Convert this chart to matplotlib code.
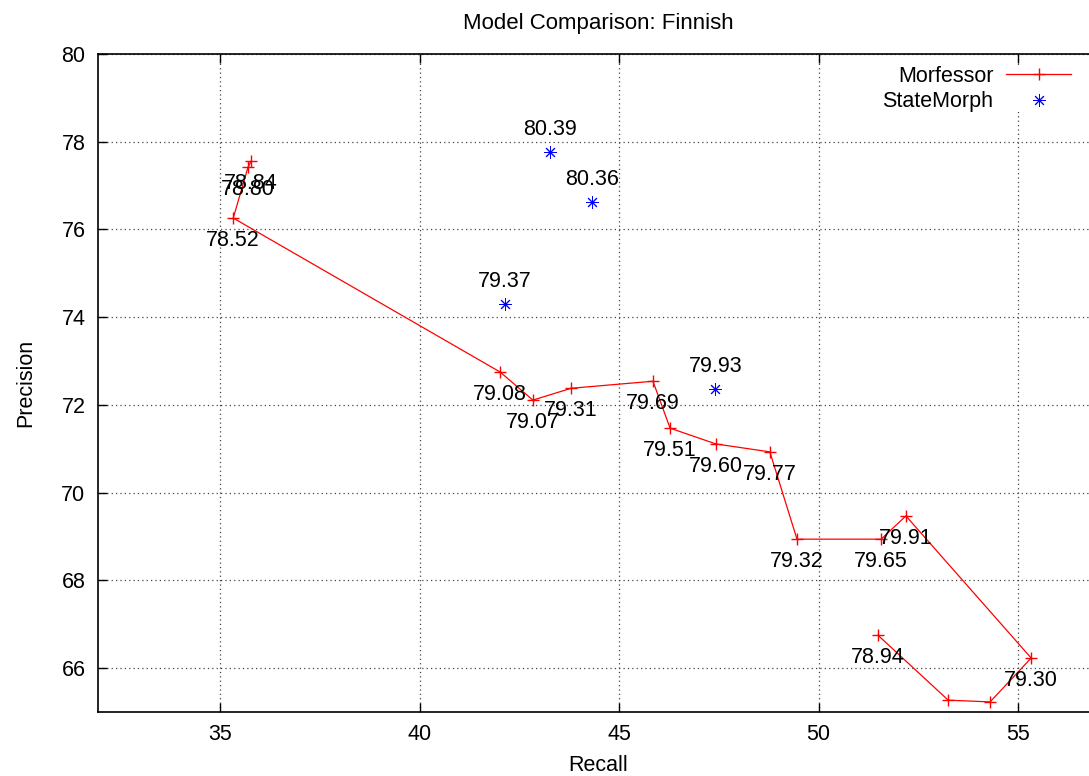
import matplotlib
matplotlib.use("Agg")
import matplotlib.pyplot as plt

plt.rcParams['font.family'] = ['Liberation Sans', 'DejaVu Sans']

# Morfessor runs: recall, precision and F-score label, in plotting order
morf_recall = [35.78, 35.70, 35.33, 42.02, 42.84, 43.80, 45.85, 46.28, 47.43,
               48.78, 49.46, 51.57, 52.19, 55.33, 54.30, 53.25, 51.49]
morf_precision = [77.56, 77.42, 76.26, 72.75, 72.11, 72.38, 72.54, 71.47, 71.11,
                  70.93, 68.94, 68.94, 69.47, 66.23, 65.23, 65.27, 66.75]
morf_labels = ["78.84", "78.80", "78.52", "79.08", "79.07", "79.31", "79.69", "79.51",
               "79.60", "79.77", "79.32", "79.65", "79.91", "79.30", "", "", "78.94"]

# StateMorph runs
sm_recall = [43.27, 44.32, 42.14, 47.41]
sm_precision = [77.77, 76.63, 74.30, 72.36]
sm_labels = ["80.39", "80.36", "79.37", "79.93"]

x_ticks = [35, 40, 45, 50, 55]
y_ticks = [66, 68, 70, 72, 74, 76, 78, 80]

FS = 15.5
W, H = 1089, 776
fig = plt.figure(figsize=(W / 100, H / 100), dpi=100)
ax = fig.add_axes([98 / W, 64 / H, 999.8 / W, 658 / H])

ax.plot(morf_recall, morf_precision, color='red', lw=0.9, marker='+',
        markersize=9, markeredgewidth=1.0, label='Morfessor', zorder=3)
ax.plot(sm_recall, sm_precision, linestyle='none', color='blue',
        marker=(8, 2, 0), markersize=9, markeredgewidth=0.7,
        label='StateMorph', zorder=3)

for x, y, t in zip(morf_recall, morf_precision, morf_labels):
    if t:
        ax.annotate(t, (x, y), xytext=(0, -16), textcoords='offset points',
                    ha='center', va='center', fontsize=FS, zorder=4)
for x, y, t in zip(sm_recall, sm_precision, sm_labels):
    ax.annotate(t, (x, y), xytext=(0, 16), textcoords='offset points',
                ha='center', va='center', fontsize=FS, zorder=4)

ax.set_xlim(31.94, 57.0)
ax.set_ylim(65.0, 80.0)
ax.set_xticks(x_ticks)
ax.set_yticks(y_ticks)
ax.tick_params(direction='in', length=6.5, width=1.0, top=True, right=True,
               labelsize=FS, pad=9)
ax.grid(True, color='#444444', lw=0.9, linestyle=(0, (1, 2.5)))
for s in ax.spines.values():
    s.set_linewidth(1.2)

ax.set_xlabel('Recall', fontsize=FS, labelpad=7)
ax.set_ylabel('Precision', fontsize=FS, labelpad=18)
ax.set_title('Model Comparison: Finnish', fontsize=16, pad=18)

leg = ax.legend(loc='upper right', bbox_to_anchor=(1071 / W, 1 - 66 / H),
                bbox_transform=fig.transFigure, markerfirst=False, numpoints=1,
                fontsize=FS, frameon=True, fancybox=False, borderpad=0,
                borderaxespad=0, handlelength=3.0, handletextpad=0.6,
                labelspacing=0.2)
leg.get_frame().set_facecolor('white')
leg.get_frame().set_edgecolor('none')
leg.get_frame().set_alpha(1.0)

fig.savefig('out.png', dpi=100)
